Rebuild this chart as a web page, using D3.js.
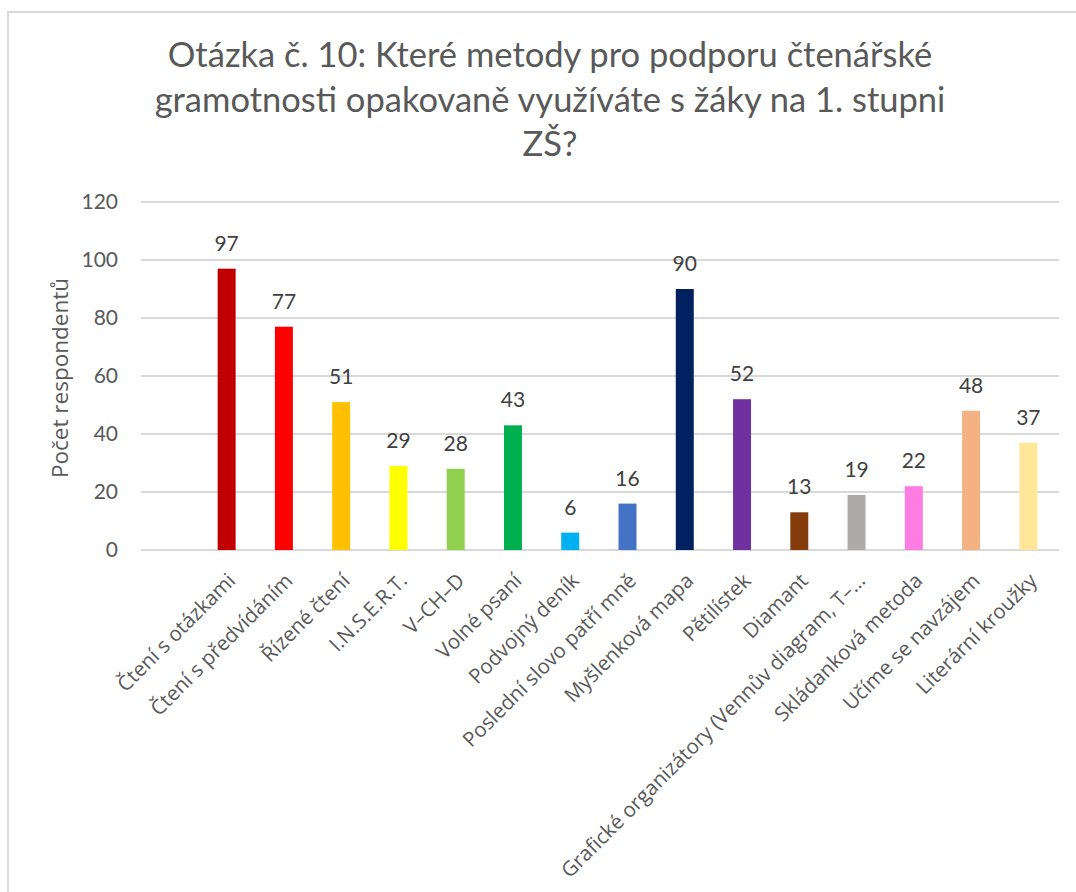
<!DOCTYPE html>
<html>
<head>
<meta charset="utf-8">
<script src="https://cdn.jsdelivr.net/npm/d3@7"></script>
<style>
  body { margin: 0; background: #fff; }
</style>
</head>
<body>
<script>
// categories, values and bar colours
var categories = ["Čtení s otázkami", "Čtení s předvídáním", "Řízené čtení", "I.N.S.E.R.T.", "V–CH–D",
  "Volné psaní", "Podvojný deník", "Poslední slovo patří mně", "Myšlenková mapa", "Pětilístek",
  "Diamant", "Grafické organizátory (Vennův diagram, T–…", "Skládanková metoda", "Učíme se navzájem",
  "Literární kroužky"];
var values = [97, 77, 51, 29, 28, 43, 6, 16, 90, 52, 13, 19, 22, 48, 37];
var colors = ["#C00000", "#FF0000", "#FFC000", "#FFFF00", "#92D050", "#00B050", "#00B0F0", "#4472C4",
  "#002060", "#7030A0", "#843C0C", "#AEAAAA", "#FF7CE3", "#F4B183", "#FFE699"];
var yTicks = [0, 20, 40, 60, 80, 100, 120];
var titleLines = ["Otázka č. 10: Které metody pro podporu čtenářské",
  "gramotnosti opakovaně využíváte s žáky na 1. stupni", "ZŠ?"];

var W = 1076, H = 892;
var numFont = "Lato, sans-serif";
var labelFont = "'Open Sans', sans-serif";

var svg = d3.select("body").append("svg")
  .attr("width", W)
  .attr("height", H);

// chart area border (only top/left visible in the crop)
svg.append("path")
  .attr("d", "M8," + H + "V12H" + W)
  .attr("fill", "none")
  .attr("stroke", "#d9d9d9")
  .attr("stroke-width", 2);

var gridLeft = 141, gridRight = 1059;

var y = d3.scaleLinear().domain([0, 120]).range([550, 202]);
var x = d3.scaleBand().domain(categories).range([198, 1057]).paddingInner(0.686).paddingOuter(0.343);

// gridlines
svg.append("g").selectAll("line")
  .data(yTicks)
  .enter().append("line")
  .attr("x1", gridLeft)
  .attr("x2", gridRight)
  .attr("y1", function(d) { return y(d); })
  .attr("y2", function(d) { return y(d); })
  .attr("stroke", "#d9d9d9")
  .attr("stroke-width", 2);

// y axis tick labels
var yAxis = d3.axisLeft(y).tickValues(yTicks).tickSize(0).tickPadding(0);
var gy = svg.append("g")
  .attr("transform", "translate(118,0)")
  .call(yAxis);
gy.select(".domain").remove();
gy.selectAll("text")
  .style("font-family", numFont)
  .style("font-size", "21px")
  .attr("fill", "#595959");

// bars
svg.append("g").selectAll("rect")
  .data(values)
  .enter().append("rect")
  .attr("x", function(d, i) { return x(categories[i]); })
  .attr("width", x.bandwidth())
  .attr("y", function(d) { return y(d); })
  .attr("height", function(d) { return y(0) - y(d); })
  .attr("fill", function(d, i) { return colors[i]; });

// data labels
svg.append("g").selectAll("text")
  .data(values)
  .enter().append("text")
  .attr("x", function(d, i) { return x(categories[i]) + x.bandwidth() / 2; })
  .attr("y", function(d) { return y(d) - 18; })
  .attr("text-anchor", "middle")
  .style("font-family", numFont)
  .style("font-size", "21px")
  .attr("fill", "#404040")
  .text(function(d) { return d; });

// category labels, rotated
svg.append("g").selectAll("text")
  .data(categories)
  .enter().append("text")
  .attr("transform", function(d) {
    return "translate(" + (x(d) + x.bandwidth() / 2 + 10) + ",582) rotate(-45)";
  })
  .attr("text-anchor", "end")
  .style("font-family", labelFont)
  .style("font-size", "20.5px")
  .attr("fill", "#595959")
  .text(function(d) { return d; });

// y axis title
svg.append("text")
  .attr("transform", "translate(68,378) rotate(-90)")
  .attr("text-anchor", "middle")
  .style("font-family", labelFont)
  .style("font-size", "22.5px")
  .attr("fill", "#595959")
  .text("Počet respondentů");

// title
svg.append("g").selectAll("text")
  .data(titleLines)
  .enter().append("text")
  .attr("x", 550)
  .attr("y", function(d, i) { return 67 + i * 44.5; })
  .attr("text-anchor", "middle")
  .style("font-family", numFont)
  .style("font-size", "34.5px")
  .attr("fill", "#595959")
  .text(function(d) { return d; });
</script>
</body>
</html>
